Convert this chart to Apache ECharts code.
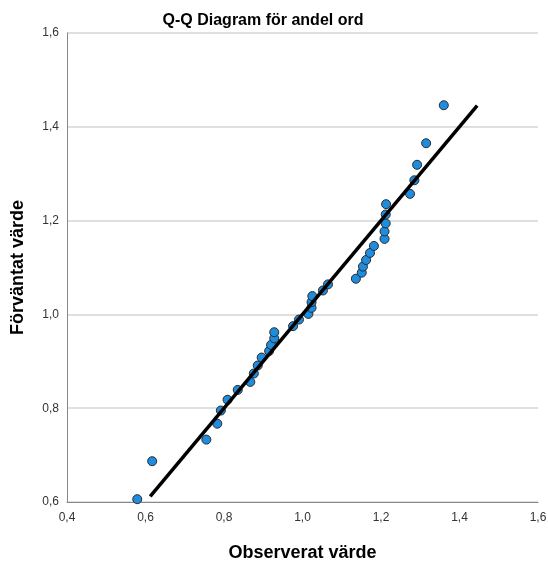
<!DOCTYPE html>
<html>
<head>
<meta charset="utf-8">
<script src="https://cdn.jsdelivr.net/npm/echarts@6/dist/echarts.min.js"></script>
<style>html,body{margin:0;padding:0;background:#fff}#c{width:548px;height:561px}</style>
</head>
<body>
<div id="c"></div>
<script>
var observed = [0.579,0.617,0.755,0.783,0.792,0.809,0.835,0.867,0.876,0.886,0.896,0.915,0.920,0.928,0.928,0.976,0.991,1.015,1.023,1.023,1.025,1.052,1.065,1.136,1.151,1.154,1.162,1.172,1.182,1.209,1.209,1.212,1.212,1.213,1.274,1.285,1.292,1.315,1.360];
var expected = [0.606,0.687,0.733,0.767,0.795,0.818,0.839,0.856,0.874,0.891,0.908,0.922,0.935,0.949,0.962,0.975,0.989,1.001,1.014,1.026,1.039,1.051,1.064,1.076,1.089,1.102,1.116,1.131,1.146,1.161,1.177,1.194,1.213,1.235,1.257,1.286,1.319,1.365,1.446];
var refLineX = [0.612, 1.445];
var refLineY = [0.612, 1.445];
var xTicks = [0.4,0.6,0.8,1.0,1.2,1.4,1.6];
var yTicks = [0.6,0.8,1.0,1.2,1.4,1.6];

var pts = observed.map(function(v,i){return [v, expected[i]];});
var line = refLineX.map(function(v,i){return [v, refLineY[i]];});
function fmt(v){return v.toFixed(1).replace('.', ',');}
var FONT = '"Liberation Sans", Arial, sans-serif';
var chart = echarts.init(document.getElementById('c'), null, {renderer:'canvas'});
chart.setOption({
  animation:false,
  backgroundColor:'#fff',
  title:{text:'Q-Q Diagram för andel ord', left:258, textAlign:'center', top:8,
    textStyle:{fontFamily:FONT, fontSize:16, fontWeight:'bold', color:'#000'}},
  grid:{left:67, right:10, top:33, bottom:59, containLabel:false, outerBoundsMode:'none'},
  xAxis:{type:'value', min:xTicks[0], max:xTicks[xTicks.length-1], interval:0.2,
    name:'Observerat värde', nameLocation:'middle', nameGap:42,
    nameTextStyle:{fontFamily:FONT, fontSize:18, fontWeight:'bold', color:'#000'},
    axisLine:{show:true, lineStyle:{color:'#888', width:1}},
    axisTick:{show:false},
    axisLabel:{formatter:fmt, margin:10, fontFamily:FONT, fontSize:12, color:'#333', showMinLabel:true, showMaxLabel:true},
    splitLine:{show:false}},
  yAxis:{type:'value', min:yTicks[0], max:yTicks[yTicks.length-1], interval:0.2,
    name:'Förväntat värde', nameLocation:'middle', nameGap:40,
    nameTextStyle:{fontFamily:FONT, fontSize:18, fontWeight:'bold', color:'#000'},
    axisLine:{show:true, lineStyle:{color:'#888', width:1}},
    axisTick:{show:false},
    axisLabel:{formatter:fmt, margin:8, fontFamily:FONT, fontSize:12, color:'#333', padding:[4,0,0,0]},
    splitLine:{show:true, lineStyle:{color:'#d4d4d4', width:1.5}}},
  series:[
    {type:'line', data:line, symbol:'none', lineStyle:{color:'#000', width:3.5}, z:3, silent:true},
    {type:'scatter', data:pts, symbol:'circle', symbolSize:9,
      itemStyle:{color:'#1e8ddf', borderColor:'#2a2a2a', borderWidth:1, opacity:1}, z:2}
  ]
});
</script>
</body>
</html>
